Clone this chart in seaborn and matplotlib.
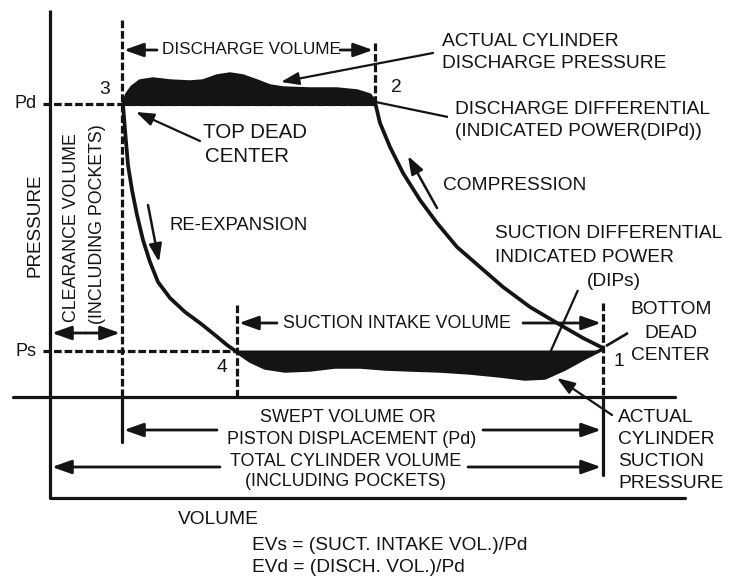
import matplotlib
matplotlib.use("Agg")
import matplotlib.pyplot as plt
import seaborn as sns

sns.set_theme(style="white")
plt.rcParams["font.family"] = ["Liberation Sans", "DejaVu Sans"]

INK = "#141414"

# Diagram units: volume grows to the right, pressure grows upward (y axis inverted)
P_D = 104       # discharge pressure level
P_S = 351       # suction pressure level
V_ZERO = 50     # zero volume (pressure axis)
V_TDC = 122     # top dead center, end of clearance volume
V_OPEN = 237    # point 4, suction valve opens
V_CLOSE = 375   # point 2, discharge valve closes
V_BDC = 603     # bottom dead center
BASE = 397      # base line
FLOOR = 498     # volume axis

# Re-expansion 3 -> 4
reexp_v = [123, 125, 128, 132, 137, 143, 150, 158, 170, 185, 200, 215, 227, 237]
reexp_p = [104, 130, 165, 190, 215, 240, 262, 282, 298, 312, 323, 335, 345, 352]

# Compression 1 -> 2
comp_v = [603, 583, 557, 530, 503, 480, 457, 437, 420, 403, 390, 380, 375]
comp_p = [348, 338, 323, 307, 287, 267, 247, 223, 200, 173, 147, 123, 102]

# Actual cylinder discharge pressure (top of discharge differential)
dis_v = [123, 127, 132, 140, 153, 170, 190, 203, 217, 230, 243, 257, 270, 283, 310, 337, 357, 370, 375]
dis_p = [104, 94, 87, 81, 79, 81, 82, 81, 76, 74, 76, 81, 86, 88, 89, 89, 91, 95, 102]

# Actual cylinder suction pressure (bottom of suction differential)
suc_v = [237, 250, 265, 285, 310, 335, 360, 385, 410, 440, 470, 500, 525, 545, 565, 585, 603]
suc_p = [352, 361, 368, 371, 370, 367, 367, 369, 370, 371, 373, 376, 379, 378, 369, 358, 349]

fig, ax = plt.subplots(figsize=(7.29, 5.81), dpi=100)
ax.set_position([0, 0, 1, 1])
ax.set_xlim(0, 729)
ax.set_ylim(581, 0)
ax.axis("off")

LW = 2.3
dash = (0, (2.4, 0.9))

# axes of the diagram
ax.plot([V_ZERO, V_ZERO], [10, FLOOR], color=INK, lw=LW, solid_capstyle="butt")
ax.plot([V_ZERO, 685], [FLOOR, FLOOR], color=INK, lw=LW)
ax.plot([13, 675], [BASE, BASE], color=INK, lw=LW)

# pressure levels
ax.plot([43, V_CLOSE], [P_D, P_D], color=INK, lw=LW, ls=dash)
ax.plot([43, V_OPEN], [P_S, P_S], color=INK, lw=LW, ls=dash)

# volume markers
ax.plot([V_TDC, V_TDC], [20, BASE], color=INK, lw=LW, ls=dash)
ax.plot([V_TDC, V_TDC], [BASE, 442], color=INK, lw=LW)
ax.plot([V_OPEN, V_OPEN], [305, BASE], color=INK, lw=LW, ls=dash)
ax.plot([V_CLOSE, V_CLOSE], [43, P_D], color=INK, lw=LW, ls=dash)
ax.plot([V_BDC, V_BDC], [303, BASE], color=INK, lw=LW, ls=dash)
ax.plot([V_BDC, V_BDC], [BASE, 475], color=INK, lw=LW)

# discharge and suction differentials
ax.fill_between(dis_v, dis_p, P_D + 1.5, color=INK, lw=0)
sns.lineplot(x=dis_v, y=dis_p, ax=ax, color=INK, lw=2.5, sort=False, estimator=None)
ax.fill_between(suc_v, P_S - 1, suc_p, color=INK, lw=0)
sns.lineplot(x=suc_v, y=suc_p, ax=ax, color=INK, lw=2.5, sort=False, estimator=None)

# process curves
sns.lineplot(x=reexp_v, y=reexp_p, ax=ax, color=INK, lw=2.7, sort=False, estimator=None)
sns.lineplot(x=comp_v, y=comp_p, ax=ax, color=INK, lw=2.7, sort=False, estimator=None)


def arrow(x0, y0, x1, y1, lw=2.0, scale=13):
    ax.annotate("", xy=(x1, y1), xytext=(x0, y0), xycoords="data",
                arrowprops=dict(arrowstyle="-|>,head_length=0.9,head_width=0.32",
                                color=INK, lw=lw, mutation_scale=scale,
                                shrinkA=0, shrinkB=0))


def line(x0, y0, x1, y1, lw=1.6):
    ax.plot([x0, x1], [y0, y1], color=INK, lw=lw, solid_capstyle="butt")


# dimension arrows
arrow(157, 50, 124, 50)
arrow(340, 50, 373, 50)
arrow(86, 333, 52, 333)
arrow(86, 333, 120, 333)
arrow(277, 323, 239, 323)
arrow(523, 323, 601, 323)
arrow(217, 430, 124, 430)
arrow(483, 430, 601, 430)
arrow(220, 467, 52, 467)
arrow(468, 467, 601, 467)

# pointers
arrow(200, 141, 136, 112, lw=1.6, scale=12)
arrow(148, 205, 159, 262, lw=1.8, scale=12)
arrow(437, 208, 408, 156, lw=1.8, scale=12)
arrow(433, 53, 281, 82, lw=1.6, scale=12)
arrow(612, 415, 557, 378, lw=1.6, scale=12)
line(448, 117, 366, 100)
line(578, 290, 549, 355)
line(628, 333, 606, 346, lw=1.9)


def label(x, y, s, size=13.8, ha="left", rot=0):
    ax.text(x, y, s, fontsize=size, ha=ha, va="center", color=INK, rotation=rot)


label(105, 90, "3", ha="center")
label(396, 88, "2", ha="center")
label(222, 368, "4", ha="center")
label(619, 361, "1", ha="center")
label(37, 104, "Pd", size=13, ha="right")
label(37, 351, "Ps", size=13, ha="right")
label(35, 225, "PRESSURE", size=13.6, ha="center", rot=90)
label(72, 228, "CLEARANCE VOLUME", size=12.8, ha="center", rot=90)
label(98, 224, "(INCLUDING POCKETS)", size=12.8, ha="center", rot=90)

label(251, 50, "DISCHARGE VOLUME", size=12.3, ha="center")
label(442, 41, "ACTUAL CYLINDER")
label(442, 63, "DISCHARGE PRESSURE")
label(455, 109, "DISCHARGE DIFFERENTIAL")
label(455, 131, "(INDICATED POWER(DIPd))")
label(203, 133, "TOP DEAD", size=14.8)
label(205, 156, "CENTER", size=14.8)
label(443, 185, "COMPRESSION")
label(170, 225, "RE-EXPANSION", size=13.3)
label(495, 234, "SUCTION DIFFERENTIAL")
label(495, 257, "INDICATED POWER")
label(587, 281, "(DIPs)")
label(283, 323, "SUCTION INTAKE VOLUME", size=12.8)
label(671, 310, "BOTTOM", ha="center")
label(671, 333, "DEAD", ha="center")
label(670, 355, "CENTER", ha="center")
label(618, 417, "ACTUAL")
label(618, 440, "CYLINDER")
label(618, 462, "SUCTION")
label(618, 484, "PRESSURE")
label(348, 418, "SWEPT VOLUME OR", size=12.9, ha="center")
label(352, 440, "PISTON DISPLACEMENT (Pd)", size=12.9, ha="center")
label(346, 461, "TOTAL CYLINDER VOLUME", size=12.9, ha="center")
label(345, 482, "(INCLUDING POCKETS)", size=12.9, ha="center")
label(178, 520, "VOLUME")
label(252, 545, "EVs = (SUCT. INTAKE VOL.)/Pd")
label(252, 567, "EVd = (DISCH. VOL.)/Pd")

fig.savefig("out.png", dpi=100, facecolor="white")
